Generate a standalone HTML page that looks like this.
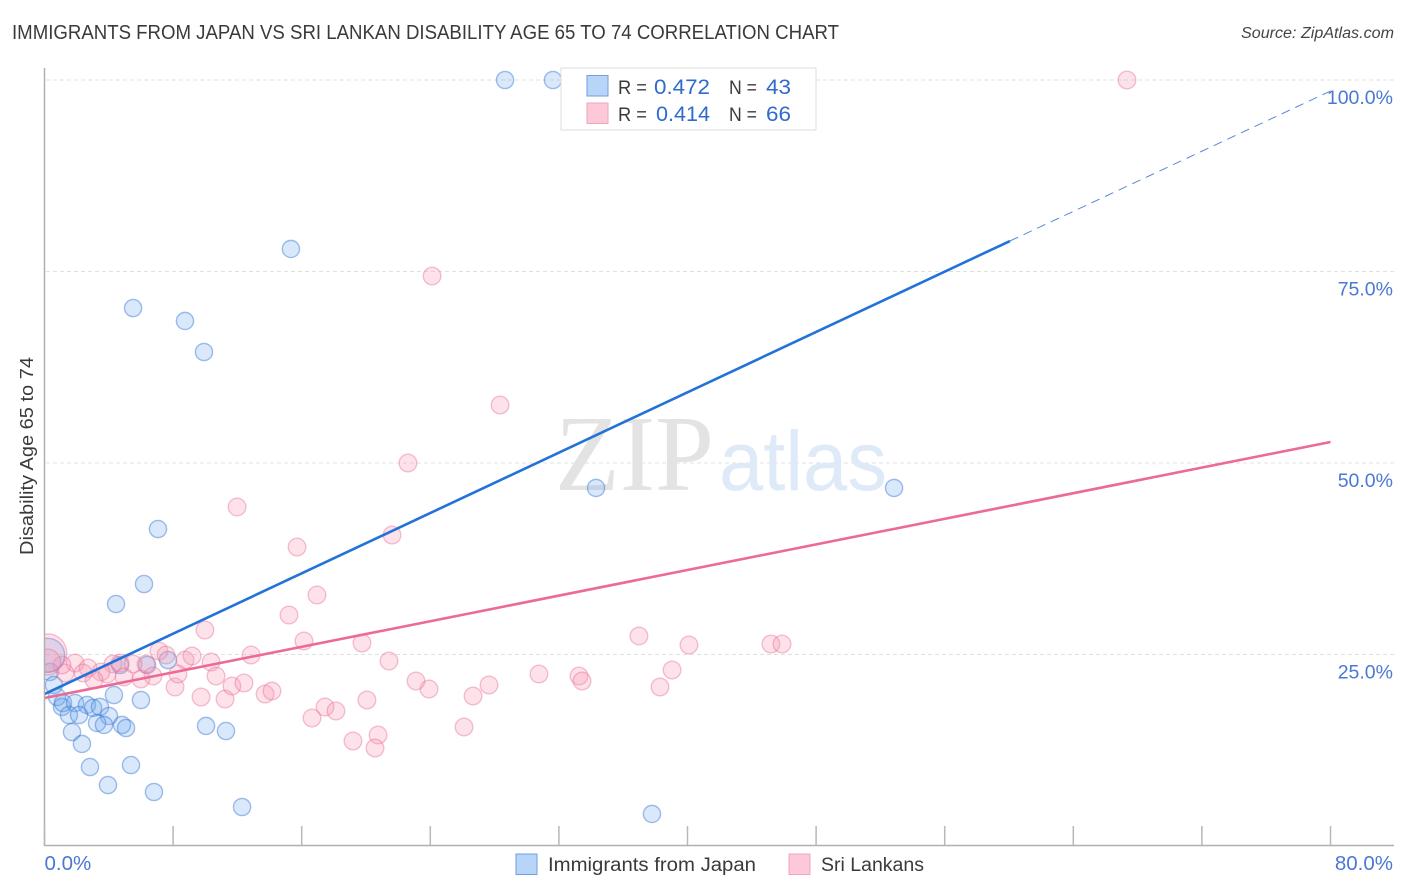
<!DOCTYPE html>
<html lang="en">
<head>
<meta charset="utf-8">
<title>Immigrants from Japan vs Sri Lankan Disability Age 65 to 74 Correlation Chart</title>
<style>
html,body{margin:0;padding:0;background:#fff;}
svg{display:block;font-family:"Liberation Sans",sans-serif;}
</style>
</head>
<body>
<svg id="chart" width="1406" height="892" viewBox="0 0 1406 892" xmlns="http://www.w3.org/2000/svg">
  <text x="12" y="39" font-size="20" fill="#3a3a3a" textLength="827" lengthAdjust="spacingAndGlyphs">IMMIGRANTS FROM JAPAN VS SRI LANKAN DISABILITY AGE 65 TO 74 CORRELATION CHART</text>
  <text x="1394" y="38" font-size="15.5" font-style="italic" fill="#444" text-anchor="end" textLength="153" lengthAdjust="spacingAndGlyphs">Source: ZipAtlas.com</text>

  <g id="grid"></g>

  <g>
    <text x="555" y="490" font-family="'Liberation Serif',serif" font-size="108" fill="#e3e3e3" textLength="159" lengthAdjust="spacingAndGlyphs">ZIP</text>
    <text x="719" y="490" font-size="84" fill="#dfeaf9" textLength="168" lengthAdjust="spacingAndGlyphs">atlas</text>
  </g>

  <g id="points"></g>
  <rect x="0" y="620" width="44.5" height="70" fill="#fff"/>
  <g id="trends"></g>

  <line x1="44.5" y1="68" x2="44.5" y2="846" stroke="#b0b0b0" stroke-width="1.5"/>
  <line x1="44" y1="845.5" x2="1394" y2="845.5" stroke="#b0b0b0" stroke-width="1.5"/>
  <g id="xticks"></g>
  <g id="ylabels"></g>
  <g id="xlabels"></g>

  <text transform="translate(33,555) rotate(-90)" font-size="18" fill="#3a3a3a" textLength="198" lengthAdjust="spacingAndGlyphs">Disability Age 65 to 74</text>

  <g>
    <rect x="561" y="68" width="255" height="62" fill="#fff" stroke="#dddddd" stroke-width="1"/>
    <rect x="587" y="75.5" width="21" height="20.5" fill="#b8d4f8" stroke="#6f9fdc" stroke-width="1"/>
    <rect x="587" y="103" width="21" height="20.5" fill="#fdc8d8" stroke="#eda6bb" stroke-width="1"/>
    <text x="618" y="94" font-size="19" fill="#3a3a3a" textLength="29" lengthAdjust="spacingAndGlyphs">R =</text>
    <text x="654" y="94" font-size="21" fill="#2f6bcb" textLength="56" lengthAdjust="spacingAndGlyphs">0.472</text>
    <text x="729" y="94" font-size="19" fill="#3a3a3a" textLength="28" lengthAdjust="spacingAndGlyphs">N =</text>
    <text x="766" y="94" font-size="21" fill="#2f6bcb" textLength="25" lengthAdjust="spacingAndGlyphs">43</text>
    <text x="618" y="121" font-size="19" fill="#3a3a3a" textLength="29" lengthAdjust="spacingAndGlyphs">R =</text>
    <text x="656" y="121" font-size="21" fill="#2f6bcb" textLength="54" lengthAdjust="spacingAndGlyphs">0.414</text>
    <text x="729" y="121" font-size="19" fill="#3a3a3a" textLength="28" lengthAdjust="spacingAndGlyphs">N =</text>
    <text x="766" y="121" font-size="21" fill="#2f6bcb" textLength="25" lengthAdjust="spacingAndGlyphs">66</text>
  </g>

  <g>
    <rect x="516" y="854" width="21" height="20.5" fill="#b8d4f8" stroke="#6f9fdc" stroke-width="1"/>
    <text x="548" y="871" font-size="19" fill="#3a3a3a" textLength="208" lengthAdjust="spacingAndGlyphs">Immigrants from Japan</text>
    <rect x="789" y="854" width="21" height="20.5" fill="#fdc8d8" stroke="#eda6bb" stroke-width="1"/>
    <text x="821" y="871" font-size="19" fill="#3a3a3a" textLength="103" lengthAdjust="spacingAndGlyphs">Sri Lankans</text>
  </g>
</svg>
<script>
var xTickValues = [0, 8, 16, 24, 32, 40, 48, 56, 64, 72, 80];
var xLabelValues = [0, 80];
var xLabelText = ["0.0%", "80.0%"];
var yGridValues = [25, 50, 75, 100];
var yLabelText = ["25.0%", "50.0%", "75.0%", "100.0%"];

var japanX = [28.65,31.63,15.33,5.51,8.74,9.92,7.06,34.31,52.85,6.19,4.45,4.70,6.38,7.68,4.32,6.00,0.34,0.59,0.78,1.09,1.15,1.90,2.64,3.02,3.45,1.52,2.15,4.01,3.27,3.70,4.82,5.07,10.05,11.29,1.71,2.33,2.83,5.38,3.95,6.81,12.29,37.79];
var japanY = [100,100,77.94,70.23,68.54,64.49,41.38,46.74,46.74,34.20,31.59,23.63,23.63,24.28,19.71,19.06,22.72,21.02,19.45,18.15,18.67,18.67,18.41,18.02,18.15,17.10,17.10,16.97,16.06,15.80,15.80,15.40,15.67,15.01,14.88,13.32,10.31,10.57,7.96,7.05,5.09,4.18];
var japanClusterX = [0.2];
var japanClusterY = [24.9];

var lankaX = [67.34,24.11,28.34,22.61,11.98,21.62,15.71,16.95,15.21,9.98,16.14,19.75,36.98,40.09,45.19,45.88,12.85,21.43,10.36,8.74,9.18,7.12,7.56,6.31,4.70,4.26,5.51,1.90,2.71,39.04,30.76,33.25,33.44,23.11,23.92,27.65,26.66,38.29,20.06,17.45,18.13,16.64,26.10,20.75,19.19,20.56,8.12,9.74,11.23,11.66,12.41,13.72,14.15,10.67,8.30,6.75,6.00,4.95,3.89,3.51,2.40,3.08,1.28,1.09];
var lankaY = [100,74.41,57.57,50.0,44.26,40.60,39.03,32.77,30.16,28.20,26.76,26.50,27.42,26.24,26.37,26.37,24.93,24.15,24.02,24.28,24.80,25.46,24.93,23.76,23.89,23.76,23.76,23.89,23.24,22.98,22.45,22.19,21.54,21.54,20.50,21.02,19.58,20.76,19.06,18.15,17.62,16.71,15.54,14.49,13.71,12.79,20.76,19.45,19.19,20.89,21.28,19.84,20.23,22.19,22.45,22.19,21.80,22.06,22.45,22.72,22.58,21.67,22.58,23.63];
var lankaClusterX = [0.2, 0.2];
var lankaClusterY = [25.2, 24.0];

var japanTrendX = [0, 60.06];
var japanTrendY = [19.84, 78.98];
var japanTrendExtX = [60.06, 80];
var japanTrendExtY = [78.98, 98.56];
var lankaTrendX = [0, 80];
var lankaTrendY = [19.32, 52.74];

var NS = "http://www.w3.org/2000/svg";
function sx(v) { return 44.5 + v * 16.075; }
function sy(v) { return 846 - v * 7.66; }
function make(tag, attrs, parent) {
  var el = document.createElementNS(NS, tag);
  for (var k in attrs) { el.setAttribute(k, attrs[k]); }
  parent.appendChild(el);
  return el;
}

var gridG = document.getElementById("grid");
yGridValues.forEach(function (v) {
  var el = make("line", {x1: 46, x2: 1394, y1: sy(v), y2: sy(v), stroke: "#e0e0e0", "stroke-width": 1, "stroke-dasharray": "4 3"}, gridG);
  
  
});

var xtG = document.getElementById("xticks");
xTickValues.forEach(function (v) {
  var el = make("line", {x1: sx(v), x2: sx(v), y1: 826, y2: 845, stroke: "#b8b8b8", "stroke-width": 1.5}, xtG);
  
  
});

var ylG = document.getElementById("ylabels");
yGridValues.forEach(function (v, i) {
  var el = make("text", {x: 1393, y: sy(v) + 24, "font-size": 19.5, fill: "#4a78d4", "text-anchor": "end"}, ylG);
  el.textContent = yLabelText[i];
  
  
});

var xlG = document.getElementById("xlabels");
xLabelValues.forEach(function (v, i) {
  var el = make("text", {x: i === 0 ? sx(v) : 1393, y: 870, "font-size": 20.5, fill: "#4a78d4", "text-anchor": i === 0 ? "start" : "end"}, xlG);
  el.textContent = xLabelText[i];
  
  
});

var ptsG = document.getElementById("points");
var blueStyle = {fill: "rgba(110,165,235,0.26)", stroke: "rgba(50,115,210,0.45)", "stroke-width": 1.4};
var pinkStyle = {fill: "rgba(248,150,178,0.28)", stroke: "rgba(232,110,150,0.42)", "stroke-width": 1.4};
function dot(xv, yv, r, style, parent) {
  var a = {cx: sx(xv), cy: sy(yv), r: r};
  for (var k in style) { a[k] = style[k]; }
  return make("circle", a, parent);
}
japanX.forEach(function (v, i) {
  var el = dot(v, japanY[i], 8.6, blueStyle, ptsG);
  
  
});
lankaX.forEach(function (v, i) {
  var el = dot(v, lankaY[i], 8.8, pinkStyle, ptsG);
  
  
});
japanClusterX.forEach(function (v, i) {
  var el = dot(v, japanClusterY[i], 17, blueStyle, ptsG);
  
  
});
lankaClusterX.forEach(function (v, i) {
  var el = dot(v, lankaClusterY[i], i === 0 ? 19 : 13, pinkStyle, ptsG);
  
  
});

var trG = document.getElementById("trends");
var jt = make("line", {x1: sx(japanTrendX[0]), y1: sy(japanTrendY[0]), x2: sx(japanTrendX[1]), y2: sy(japanTrendY[1]), stroke: "#2372d8", "stroke-width": 2.6}, trG);


var je = make("line", {x1: sx(japanTrendExtX[0]), y1: sy(japanTrendExtY[0]), x2: sx(japanTrendExtX[1]), y2: sy(japanTrendExtY[1]), stroke: "#5b86d6", "stroke-width": 1, "stroke-dasharray": "9 6"}, trG);


var lt = make("line", {x1: sx(lankaTrendX[0]), y1: sy(lankaTrendY[0]), x2: sx(lankaTrendX[1]), y2: sy(lankaTrendY[1]), stroke: "#ec6a96", "stroke-width": 2.6}, trG);


</script>
</body>
</html>
